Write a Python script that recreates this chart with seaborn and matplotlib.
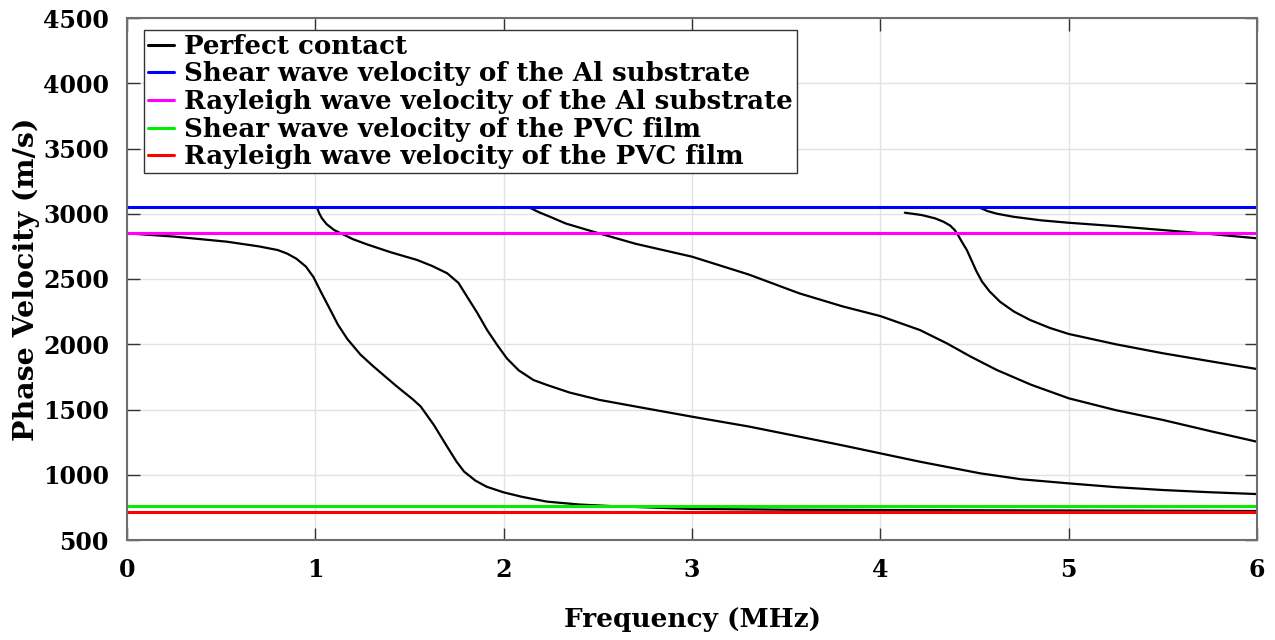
import numpy as np
import pandas as pd
import matplotlib
matplotlib.use('Agg')
import matplotlib.pyplot as plt
import seaborn as sns

# ── data (frequency MHz, phase velocity m/s) ──
mode0_f = [0.0, 0.25, 0.53, 0.70, 0.80, 0.85, 0.90, 0.95, 0.99, 1.03, 1.08, 1.12, 1.17, 1.24,
           1.31, 1.43, 1.52, 1.56, 1.63, 1.70, 1.75, 1.79, 1.85, 1.91, 2.0, 2.1, 2.23, 2.4,
           2.6, 3.0, 3.5, 4.0, 4.5, 5.0, 5.5, 6.0]
mode0_v = [2850, 2825, 2786, 2750, 2722, 2695, 2655, 2595, 2515, 2400, 2262, 2150, 2040, 1920,
           1828, 1680, 1575, 1522, 1380, 1215, 1100, 1024, 955, 908, 865, 830, 794, 772,
           758, 738, 732, 730, 728, 726, 724, 722]

mode1_f = [1.01, 1.02, 1.035, 1.06, 1.10, 1.15, 1.20, 1.275, 1.40, 1.54, 1.62, 1.70, 1.76,
           1.806, 1.86, 1.912, 1.97, 2.018, 2.08, 2.158, 2.23, 2.35, 2.51, 2.75, 3.0, 3.3,
           3.57, 3.8, 4.0, 4.21, 4.53, 4.75, 5.0, 5.25, 5.5, 5.75, 6.0]
mode1_v = [3045, 3005, 2965, 2920, 2875, 2840, 2805, 2765, 2705, 2646, 2600, 2544, 2470,
           2364, 2240, 2109, 1985, 1890, 1800, 1726, 1688, 1630, 1573, 1510, 1445, 1370,
           1292, 1225, 1164, 1100, 1011, 965, 934, 905, 883, 866, 852]

mode2_f = [2.14, 2.19, 2.246, 2.33, 2.477, 2.70, 3.0, 3.3, 3.57, 3.8, 4.0, 4.21, 4.353, 4.48,
           4.618, 4.80, 5.0, 5.25, 5.5, 5.75, 6.0]
mode2_v = [3045, 3010, 2977, 2925, 2862, 2770, 2671, 2535, 2390, 2290, 2216, 2109, 2007, 1905,
           1803, 1690, 1586, 1495, 1420, 1335, 1253]

mode3_f = [4.13, 4.22, 4.29, 4.335, 4.37, 4.395, 4.415, 4.435, 4.46, 4.485, 4.51, 4.54, 4.58,
           4.636, 4.71, 4.795, 4.90, 5.0, 5.25, 5.5, 5.75, 6.0]
mode3_v = [3008, 2990, 2965, 2939, 2910, 2875, 2830, 2780, 2720, 2640, 2560, 2480, 2405,
           2325, 2250, 2186, 2125, 2079, 2000, 1931, 1870, 1810]

mode4_f = [4.53, 4.57, 4.62, 4.706, 4.85, 5.0, 5.25, 5.5, 5.75, 6.0]
mode4_v = [3045, 3020, 3000, 2977, 2950, 2931, 2905, 2875, 2845, 2812]

shear_al = 3050
rayleigh_al = 2850
shear_pvc = 760
rayleigh_pvc = 715

modes = pd.concat([
    pd.DataFrame({'f': f, 'v': v, 'mode': i})
    for i, (f, v) in enumerate([(mode0_f, mode0_v), (mode1_f, mode1_v), (mode2_f, mode2_v),
                                (mode3_f, mode3_v), (mode4_f, mode4_v)])
], ignore_index=True)

sns.set_theme(style='whitegrid')
plt.rcParams['font.family'] = ['DejaVu Serif']
plt.rcParams['font.weight'] = 'bold'
plt.rcParams['text.color'] = 'black'
plt.rcParams['axes.labelcolor'] = 'black'
plt.rcParams['xtick.color'] = 'black'
plt.rcParams['ytick.color'] = 'black'

fig = plt.figure(figsize=(12.75, 6.4), dpi=100)
ax = fig.add_axes([127 / 1275, 1 - 540 / 640, (1257 - 127) / 1275, (540 - 18) / 640])

sns.lineplot(data=modes, x='f', y='v', units='mode', estimator=None, color='black',
             linewidth=1.6, sort=False, ax=ax, legend=False)

hlines = [(shear_al, '#0000ff', 'Shear wave velocity of the Al substrate'),
          (rayleigh_al, '#ff00ff', 'Rayleigh wave velocity of the Al substrate'),
          (shear_pvc, '#00ee00', 'Shear wave velocity of the PVC film'),
          (rayleigh_pvc, '#ff0000', 'Rayleigh wave velocity of the PVC film')]
handles = [plt.Line2D([], [], color='black', linewidth=2.2, label='Perfect contact')]
for val, col, lab in hlines:
    ax.axhline(val, color=col, linewidth=2.2)
    handles.append(plt.Line2D([], [], color=col, linewidth=2.2, label=lab))

ax.set_xlim(0, 6)
ax.set_ylim(500, 4500)
ax.set_xticks(range(0, 7))
ax.set_yticks(range(500, 4501, 500))
ax.grid(True, color='#e2e2e2', linewidth=1.0)
for s in ax.spines.values():
    s.set_color('#6e6e6e')
    s.set_linewidth(1.5)
ax.set_facecolor('white')
ax.tick_params(direction='in', length=9, width=1.0, color='#333333', labelsize=17,
               labelcolor='black', top=True, right=True, bottom=True, left=True)
ax.tick_params(axis='x', pad=13)
ax.tick_params(axis='y', pad=13)
for t in ax.get_xticklabels() + ax.get_yticklabels():
    t.set_fontweight('bold')

ax.set_xlabel('Frequency (MHz)', fontsize=19, fontweight='bold', labelpad=18)
ax.set_ylabel('Phase Velocity (m/s)', fontsize=20.5, fontweight='bold', labelpad=2)

leg = ax.legend(handles=handles, loc='upper left', bbox_to_anchor=(0.015, 0.977),
                prop={'weight': 'bold', 'size': 18.7}, frameon=True, fancybox=False,
                handlelength=1.0, handletextpad=0.4, labelspacing=0.1, borderpad=0.15,
                borderaxespad=0.0)
leg.get_frame().set_edgecolor('#333333')
leg.get_frame().set_linewidth(1.0)
leg.get_frame().set_alpha(1)

fig.savefig('out.png', dpi=100)
